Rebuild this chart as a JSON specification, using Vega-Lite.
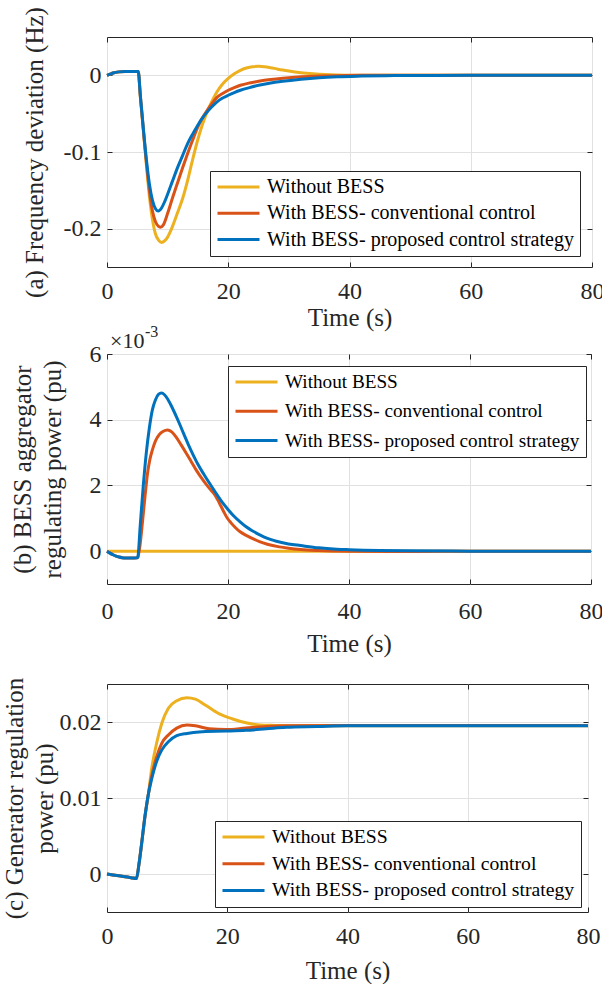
{
  "$schema": "https://vega.github.io/schema/vega-lite/v6.json",
  "padding": {"left": 1, "top": 6, "right": 0, "bottom": 0},
  "background": "white",
  "config": {
    "font": "Liberation Serif",
    "view": {"stroke": "#262626", "strokeWidth": 1},
    "axis": {"domain": false, "labelFont": "Liberation Serif", "labelFontSize": 24, "labelColor": "#262626", "titleFont": "Liberation Serif", "titleFontSize": 25, "titleFontWeight": "normal", "titleColor": "#262626", "gridColor": "#e1e1e1", "tickColor": "#262626", "tickSize": -5, "labelFlush": false, "labelOverlap": false},
    "legend": {"labelFont": "Liberation Serif", "labelFontSize": 20, "labelColor": "#000000", "labelLimit": 400, "symbolType": "stroke", "symbolStrokeWidth": 3, "symbolSize": 1764, "clipHeight": 20, "rowPadding": 6.3, "padding": 6, "labelOffset": 6, "strokeColor": "#262626", "fillColor": "white"},
    "line": {"strokeWidth": 3, "interpolate": "monotone"}
  },
  "datasets": {
    "fa": [
      {"s": "Without BESS", "t": 0, "v": 0}, {"s": "Without BESS", "t": 0.5, "v": 0.0015}, {"s": "Without BESS", "t": 1, "v": 0.003}, {"s": "Without BESS", "t": 2, "v": 0.0045}, {"s": "Without BESS", "t": 3, "v": 0.005}, {"s": "Without BESS", "t": 4, "v": 0.005}, {"s": "Without BESS", "t": 5, "v": 0.005}, {"s": "Without BESS", "t": 5.15, "v": 0.005},
      {"s": "Without BESS", "t": 5.5, "v": -0.028}, {"s": "Without BESS", "t": 6, "v": -0.072}, {"s": "Without BESS", "t": 6.5, "v": -0.117}, {"s": "Without BESS", "t": 7, "v": -0.158}, {"s": "Without BESS", "t": 7.5, "v": -0.188}, {"s": "Without BESS", "t": 8, "v": -0.207}, {"s": "Without BESS", "t": 8.5, "v": -0.215}, {"s": "Without BESS", "t": 9, "v": -0.218}, {"s": "Without BESS", "t": 9.5, "v": -0.216}, {"s": "Without BESS", "t": 10, "v": -0.211}, {"s": "Without BESS", "t": 10.5, "v": -0.203}, {"s": "Without BESS", "t": 11, "v": -0.193}, {"s": "Without BESS", "t": 11.6, "v": -0.18}, {"s": "Without BESS", "t": 12.5, "v": -0.16}, {"s": "Without BESS", "t": 13.3, "v": -0.137}, {"s": "Without BESS", "t": 14, "v": -0.114}, {"s": "Without BESS", "t": 14.9, "v": -0.086}, {"s": "Without BESS", "t": 15.7, "v": -0.065}, {"s": "Without BESS", "t": 16.5, "v": -0.048}, {"s": "Without BESS", "t": 17.3, "v": -0.034}, {"s": "Without BESS", "t": 18.1, "v": -0.022}, {"s": "Without BESS", "t": 19, "v": -0.012}, {"s": "Without BESS", "t": 20, "v": -0.004}, {"s": "Without BESS", "t": 21, "v": 0.002}, {"s": "Without BESS", "t": 22, "v": 0.0065}, {"s": "Without BESS", "t": 23, "v": 0.0095}, {"s": "Without BESS", "t": 24, "v": 0.0112}, {"s": "Without BESS", "t": 25, "v": 0.0117}, {"s": "Without BESS", "t": 26, "v": 0.0113}, {"s": "Without BESS", "t": 27, "v": 0.01}, {"s": "Without BESS", "t": 28, "v": 0.0084}, {"s": "Without BESS", "t": 29, "v": 0.0069}, {"s": "Without BESS", "t": 30, "v": 0.0056}, {"s": "Without BESS", "t": 32, "v": 0.0035}, {"s": "Without BESS", "t": 34, "v": 0.0021}, {"s": "Without BESS", "t": 36, "v": 0.0011}, {"s": "Without BESS", "t": 38, "v": 0.0005}, {"s": "Without BESS", "t": 40, "v": 0.0002}, {"s": "Without BESS", "t": 45, "v": 0}, {"s": "Without BESS", "t": 50, "v": 0}, {"s": "Without BESS", "t": 60, "v": 0}, {"s": "Without BESS", "t": 70, "v": 0}, {"s": "Without BESS", "t": 80, "v": 0},
      {"s": "With BESS- conventional control", "t": 0, "v": 0}, {"s": "With BESS- conventional control", "t": 0.5, "v": 0.0015}, {"s": "With BESS- conventional control", "t": 1, "v": 0.003}, {"s": "With BESS- conventional control", "t": 2, "v": 0.0045}, {"s": "With BESS- conventional control", "t": 3, "v": 0.005}, {"s": "With BESS- conventional control", "t": 4, "v": 0.005}, {"s": "With BESS- conventional control", "t": 5, "v": 0.005}, {"s": "With BESS- conventional control", "t": 5.15, "v": 0.005},
      {"s": "With BESS- conventional control", "t": 5.5, "v": -0.027}, {"s": "With BESS- conventional control", "t": 6, "v": -0.071}, {"s": "With BESS- conventional control", "t": 6.5, "v": -0.114}, {"s": "With BESS- conventional control", "t": 7, "v": -0.151}, {"s": "With BESS- conventional control", "t": 7.5, "v": -0.177}, {"s": "With BESS- conventional control", "t": 8, "v": -0.191}, {"s": "With BESS- conventional control", "t": 8.5, "v": -0.197}, {"s": "With BESS- conventional control", "t": 8.8, "v": -0.198}, {"s": "With BESS- conventional control", "t": 9.3, "v": -0.195}, {"s": "With BESS- conventional control", "t": 10, "v": -0.18}, {"s": "With BESS- conventional control", "t": 10.8, "v": -0.16}, {"s": "With BESS- conventional control", "t": 11.6, "v": -0.141}, {"s": "With BESS- conventional control", "t": 12.5, "v": -0.12}, {"s": "With BESS- conventional control", "t": 13.3, "v": -0.102}, {"s": "With BESS- conventional control", "t": 14.1, "v": -0.085}, {"s": "With BESS- conventional control", "t": 14.9, "v": -0.069}, {"s": "With BESS- conventional control", "t": 15.7, "v": -0.056}, {"s": "With BESS- conventional control", "t": 16.5, "v": -0.046}, {"s": "With BESS- conventional control", "t": 17.3, "v": -0.037}, {"s": "With BESS- conventional control", "t": 18.1, "v": -0.029}, {"s": "With BESS- conventional control", "t": 19, "v": -0.024}, {"s": "With BESS- conventional control", "t": 20, "v": -0.0195}, {"s": "With BESS- conventional control", "t": 21, "v": -0.016}, {"s": "With BESS- conventional control", "t": 22, "v": -0.013}, {"s": "With BESS- conventional control", "t": 23.5, "v": -0.01}, {"s": "With BESS- conventional control", "t": 25, "v": -0.0078}, {"s": "With BESS- conventional control", "t": 27, "v": -0.0055}, {"s": "With BESS- conventional control", "t": 29, "v": -0.0038}, {"s": "With BESS- conventional control", "t": 32, "v": -0.002}, {"s": "With BESS- conventional control", "t": 35, "v": -0.001}, {"s": "With BESS- conventional control", "t": 38, "v": -0.0004}, {"s": "With BESS- conventional control", "t": 42, "v": 0}, {"s": "With BESS- conventional control", "t": 50, "v": 0}, {"s": "With BESS- conventional control", "t": 60, "v": 0}, {"s": "With BESS- conventional control", "t": 70, "v": 0}, {"s": "With BESS- conventional control", "t": 80, "v": 0},
      {"s": "With BESS- proposed control strategy", "t": 0, "v": 0}, {"s": "With BESS- proposed control strategy", "t": 0.5, "v": 0.0015}, {"s": "With BESS- proposed control strategy", "t": 1, "v": 0.003}, {"s": "With BESS- proposed control strategy", "t": 2, "v": 0.0045}, {"s": "With BESS- proposed control strategy", "t": 3, "v": 0.005}, {"s": "With BESS- proposed control strategy", "t": 4, "v": 0.005}, {"s": "With BESS- proposed control strategy", "t": 5, "v": 0.005}, {"s": "With BESS- proposed control strategy", "t": 5.15, "v": 0.005},
      {"s": "With BESS- proposed control strategy", "t": 5.5, "v": -0.026}, {"s": "With BESS- proposed control strategy", "t": 6, "v": -0.07}, {"s": "With BESS- proposed control strategy", "t": 6.5, "v": -0.11}, {"s": "With BESS- proposed control strategy", "t": 7, "v": -0.142}, {"s": "With BESS- proposed control strategy", "t": 7.5, "v": -0.163}, {"s": "With BESS- proposed control strategy", "t": 8, "v": -0.174}, {"s": "With BESS- proposed control strategy", "t": 8.45, "v": -0.177}, {"s": "With BESS- proposed control strategy", "t": 9, "v": -0.173}, {"s": "With BESS- proposed control strategy", "t": 9.5, "v": -0.165}, {"s": "With BESS- proposed control strategy", "t": 10, "v": -0.155}, {"s": "With BESS- proposed control strategy", "t": 10.8, "v": -0.138}, {"s": "With BESS- proposed control strategy", "t": 11.6, "v": -0.121}, {"s": "With BESS- proposed control strategy", "t": 12.5, "v": -0.104}, {"s": "With BESS- proposed control strategy", "t": 13.3, "v": -0.089}, {"s": "With BESS- proposed control strategy", "t": 14.1, "v": -0.077}, {"s": "With BESS- proposed control strategy", "t": 14.9, "v": -0.066}, {"s": "With BESS- proposed control strategy", "t": 15.7, "v": -0.056}, {"s": "With BESS- proposed control strategy", "t": 16.5, "v": -0.048}, {"s": "With BESS- proposed control strategy", "t": 17.3, "v": -0.041}, {"s": "With BESS- proposed control strategy", "t": 18.1, "v": -0.035}, {"s": "With BESS- proposed control strategy", "t": 19, "v": -0.03}, {"s": "With BESS- proposed control strategy", "t": 20, "v": -0.026}, {"s": "With BESS- proposed control strategy", "t": 21, "v": -0.0225}, {"s": "With BESS- proposed control strategy", "t": 22, "v": -0.0195}, {"s": "With BESS- proposed control strategy", "t": 23.5, "v": -0.016}, {"s": "With BESS- proposed control strategy", "t": 25, "v": -0.013}, {"s": "With BESS- proposed control strategy", "t": 27, "v": -0.01}, {"s": "With BESS- proposed control strategy", "t": 29, "v": -0.0078}, {"s": "With BESS- proposed control strategy", "t": 32, "v": -0.005}, {"s": "With BESS- proposed control strategy", "t": 35, "v": -0.003}, {"s": "With BESS- proposed control strategy", "t": 38, "v": -0.0018}, {"s": "With BESS- proposed control strategy", "t": 42, "v": -0.001}, {"s": "With BESS- proposed control strategy", "t": 46, "v": -0.0005}, {"s": "With BESS- proposed control strategy", "t": 50, "v": -0.0002}, {"s": "With BESS- proposed control strategy", "t": 60, "v": 0}, {"s": "With BESS- proposed control strategy", "t": 70, "v": 0}, {"s": "With BESS- proposed control strategy", "t": 80, "v": 0}
    ],
    "fb": [
      {"s": "Without BESS", "t": 0, "v": 0}, {"s": "Without BESS", "t": 20, "v": 0}, {"s": "Without BESS", "t": 40, "v": 0}, {"s": "Without BESS", "t": 60, "v": 0}, {"s": "Without BESS", "t": 80, "v": 0},
      {"s": "With BESS- conventional control", "t": 0, "v": 0}, {"s": "With BESS- conventional control", "t": 0.5, "v": -0.06}, {"s": "With BESS- conventional control", "t": 1, "v": -0.11}, {"s": "With BESS- conventional control", "t": 1.5, "v": -0.15}, {"s": "With BESS- conventional control", "t": 2, "v": -0.18}, {"s": "With BESS- conventional control", "t": 2.5, "v": -0.2}, {"s": "With BESS- conventional control", "t": 3, "v": -0.21}, {"s": "With BESS- conventional control", "t": 4, "v": -0.21}, {"s": "With BESS- conventional control", "t": 5, "v": -0.2}, {"s": "With BESS- conventional control", "t": 5.1, "v": -0.18},
      {"s": "With BESS- conventional control", "t": 5.4, "v": 0.1}, {"s": "With BESS- conventional control", "t": 5.9, "v": 0.95}, {"s": "With BESS- conventional control", "t": 6.3, "v": 1.7}, {"s": "With BESS- conventional control", "t": 6.7, "v": 2.37}, {"s": "With BESS- conventional control", "t": 7.1, "v": 2.8}, {"s": "With BESS- conventional control", "t": 7.5, "v": 3.08}, {"s": "With BESS- conventional control", "t": 8, "v": 3.35}, {"s": "With BESS- conventional control", "t": 8.6, "v": 3.54}, {"s": "With BESS- conventional control", "t": 9.3, "v": 3.65}, {"s": "With BESS- conventional control", "t": 10, "v": 3.69}, {"s": "With BESS- conventional control", "t": 10.7, "v": 3.63}, {"s": "With BESS- conventional control", "t": 11.4, "v": 3.48}, {"s": "With BESS- conventional control", "t": 12.2, "v": 3.25}, {"s": "With BESS- conventional control", "t": 13.1, "v": 2.98}, {"s": "With BESS- conventional control", "t": 14, "v": 2.7}, {"s": "With BESS- conventional control", "t": 14.7, "v": 2.48}, {"s": "With BESS- conventional control", "t": 15.5, "v": 2.26}, {"s": "With BESS- conventional control", "t": 16.4, "v": 2.03}, {"s": "With BESS- conventional control", "t": 17.2, "v": 1.85}, {"s": "With BESS- conventional control", "t": 17.8, "v": 1.72}, {"s": "With BESS- conventional control", "t": 18.3, "v": 1.56}, {"s": "With BESS- conventional control", "t": 18.8, "v": 1.38}, {"s": "With BESS- conventional control", "t": 19.3, "v": 1.2}, {"s": "With BESS- conventional control", "t": 19.9, "v": 1.0}, {"s": "With BESS- conventional control", "t": 20.5, "v": 0.86}, {"s": "With BESS- conventional control", "t": 21.2, "v": 0.72}, {"s": "With BESS- conventional control", "t": 22, "v": 0.59}, {"s": "With BESS- conventional control", "t": 23, "v": 0.48}, {"s": "With BESS- conventional control", "t": 24, "v": 0.39}, {"s": "With BESS- conventional control", "t": 25.2, "v": 0.29}, {"s": "With BESS- conventional control", "t": 26.5, "v": 0.21}, {"s": "With BESS- conventional control", "t": 28.5, "v": 0.13}, {"s": "With BESS- conventional control", "t": 30, "v": 0.09}, {"s": "With BESS- conventional control", "t": 32, "v": 0.05}, {"s": "With BESS- conventional control", "t": 35, "v": 0.02}, {"s": "With BESS- conventional control", "t": 40, "v": 0}, {"s": "With BESS- conventional control", "t": 50, "v": -0.01}, {"s": "With BESS- conventional control", "t": 60, "v": 0}, {"s": "With BESS- conventional control", "t": 70, "v": 0}, {"s": "With BESS- conventional control", "t": 80, "v": 0},
      {"s": "With BESS- proposed control strategy", "t": 0, "v": 0}, {"s": "With BESS- proposed control strategy", "t": 0.5, "v": -0.06}, {"s": "With BESS- proposed control strategy", "t": 1, "v": -0.11}, {"s": "With BESS- proposed control strategy", "t": 1.5, "v": -0.15}, {"s": "With BESS- proposed control strategy", "t": 2, "v": -0.18}, {"s": "With BESS- proposed control strategy", "t": 2.5, "v": -0.2}, {"s": "With BESS- proposed control strategy", "t": 3, "v": -0.21}, {"s": "With BESS- proposed control strategy", "t": 4, "v": -0.21}, {"s": "With BESS- proposed control strategy", "t": 5, "v": -0.2}, {"s": "With BESS- proposed control strategy", "t": 5.1, "v": -0.18},
      {"s": "With BESS- proposed control strategy", "t": 5.5, "v": 0.8}, {"s": "With BESS- proposed control strategy", "t": 6, "v": 2.0}, {"s": "With BESS- proposed control strategy", "t": 6.5, "v": 3.0}, {"s": "With BESS- proposed control strategy", "t": 7, "v": 3.75}, {"s": "With BESS- proposed control strategy", "t": 7.5, "v": 4.3}, {"s": "With BESS- proposed control strategy", "t": 8, "v": 4.6}, {"s": "With BESS- proposed control strategy", "t": 8.5, "v": 4.77}, {"s": "With BESS- proposed control strategy", "t": 9, "v": 4.81}, {"s": "With BESS- proposed control strategy", "t": 9.5, "v": 4.76}, {"s": "With BESS- proposed control strategy", "t": 10, "v": 4.64}, {"s": "With BESS- proposed control strategy", "t": 10.5, "v": 4.47}, {"s": "With BESS- proposed control strategy", "t": 11, "v": 4.28}, {"s": "With BESS- proposed control strategy", "t": 11.5, "v": 4.08}, {"s": "With BESS- proposed control strategy", "t": 12, "v": 3.87}, {"s": "With BESS- proposed control strategy", "t": 12.5, "v": 3.65}, {"s": "With BESS- proposed control strategy", "t": 13, "v": 3.43}, {"s": "With BESS- proposed control strategy", "t": 13.5, "v": 3.22}, {"s": "With BESS- proposed control strategy", "t": 14, "v": 3.02}, {"s": "With BESS- proposed control strategy", "t": 14.5, "v": 2.83}, {"s": "With BESS- proposed control strategy", "t": 15, "v": 2.65}, {"s": "With BESS- proposed control strategy", "t": 16, "v": 2.34}, {"s": "With BESS- proposed control strategy", "t": 17, "v": 2.05}, {"s": "With BESS- proposed control strategy", "t": 18, "v": 1.77}, {"s": "With BESS- proposed control strategy", "t": 19, "v": 1.5}, {"s": "With BESS- proposed control strategy", "t": 20, "v": 1.27}, {"s": "With BESS- proposed control strategy", "t": 21, "v": 1.06}, {"s": "With BESS- proposed control strategy", "t": 22, "v": 0.89}, {"s": "With BESS- proposed control strategy", "t": 23, "v": 0.74}, {"s": "With BESS- proposed control strategy", "t": 24, "v": 0.62}, {"s": "With BESS- proposed control strategy", "t": 25, "v": 0.52}, {"s": "With BESS- proposed control strategy", "t": 26, "v": 0.43}, {"s": "With BESS- proposed control strategy", "t": 27, "v": 0.36}, {"s": "With BESS- proposed control strategy", "t": 28, "v": 0.3}, {"s": "With BESS- proposed control strategy", "t": 30, "v": 0.22}, {"s": "With BESS- proposed control strategy", "t": 32, "v": 0.17}, {"s": "With BESS- proposed control strategy", "t": 35, "v": 0.1}, {"s": "With BESS- proposed control strategy", "t": 38, "v": 0.06}, {"s": "With BESS- proposed control strategy", "t": 40, "v": 0.045}, {"s": "With BESS- proposed control strategy", "t": 45, "v": 0.02}, {"s": "With BESS- proposed control strategy", "t": 50, "v": 0.01}, {"s": "With BESS- proposed control strategy", "t": 60, "v": 0}, {"s": "With BESS- proposed control strategy", "t": 70, "v": 0}, {"s": "With BESS- proposed control strategy", "t": 80, "v": 0}
    ],
    "fc": [
      {"s": "Without BESS", "t": 0, "v": 0}, {"s": "Without BESS", "t": 1, "v": -0.00012}, {"s": "Without BESS", "t": 2, "v": -0.00024}, {"s": "Without BESS", "t": 3, "v": -0.00036}, {"s": "Without BESS", "t": 4, "v": -0.00048}, {"s": "Without BESS", "t": 4.9, "v": -0.0006}, {"s": "Without BESS", "t": 5.3, "v": 0.0012}, {"s": "Without BESS", "t": 5.76, "v": 0.004}, {"s": "Without BESS", "t": 6.3, "v": 0.0075}, {"s": "Without BESS", "t": 6.9, "v": 0.0106},
      {"s": "Without BESS", "t": 7.4, "v": 0.0137}, {"s": "Without BESS", "t": 8.25, "v": 0.0172}, {"s": "Without BESS", "t": 9.1, "v": 0.0198}, {"s": "Without BESS", "t": 10.2, "v": 0.0218}, {"s": "Without BESS", "t": 11.6, "v": 0.0228}, {"s": "Without BESS", "t": 13.3, "v": 0.0232}, {"s": "Without BESS", "t": 14.7, "v": 0.023}, {"s": "Without BESS", "t": 16.4, "v": 0.0222}, {"s": "Without BESS", "t": 18.6, "v": 0.0211}, {"s": "Without BESS", "t": 20.9, "v": 0.0204}, {"s": "Without BESS", "t": 23.1, "v": 0.0199}, {"s": "Without BESS", "t": 25.4, "v": 0.0196}, {"s": "Without BESS", "t": 28, "v": 0.01955}, {"s": "Without BESS", "t": 32, "v": 0.0195}, {"s": "Without BESS", "t": 40, "v": 0.0195}, {"s": "Without BESS", "t": 50, "v": 0.0195}, {"s": "Without BESS", "t": 60, "v": 0.0195}, {"s": "Without BESS", "t": 70, "v": 0.0195}, {"s": "Without BESS", "t": 80, "v": 0.0195},
      {"s": "With BESS- conventional control", "t": 0, "v": 0}, {"s": "With BESS- conventional control", "t": 1, "v": -0.00012}, {"s": "With BESS- conventional control", "t": 2, "v": -0.00024}, {"s": "With BESS- conventional control", "t": 3, "v": -0.00036}, {"s": "With BESS- conventional control", "t": 4, "v": -0.00048}, {"s": "With BESS- conventional control", "t": 4.9, "v": -0.0006}, {"s": "With BESS- conventional control", "t": 5.3, "v": 0.0012}, {"s": "With BESS- conventional control", "t": 5.76, "v": 0.004}, {"s": "With BESS- conventional control", "t": 6.3, "v": 0.0075}, {"s": "With BESS- conventional control", "t": 6.9, "v": 0.0106},
      {"s": "With BESS- conventional control", "t": 7.4, "v": 0.0128}, {"s": "With BESS- conventional control", "t": 8.25, "v": 0.0154}, {"s": "With BESS- conventional control", "t": 9.1, "v": 0.0172}, {"s": "With BESS- conventional control", "t": 10.2, "v": 0.0183}, {"s": "With BESS- conventional control", "t": 11.6, "v": 0.0192}, {"s": "With BESS- conventional control", "t": 13.3, "v": 0.0196}, {"s": "With BESS- conventional control", "t": 14.7, "v": 0.0195}, {"s": "With BESS- conventional control", "t": 17, "v": 0.0191}, {"s": "With BESS- conventional control", "t": 19.8, "v": 0.019}, {"s": "With BESS- conventional control", "t": 23.1, "v": 0.0192}, {"s": "With BESS- conventional control", "t": 26.5, "v": 0.0194}, {"s": "With BESS- conventional control", "t": 29.8, "v": 0.0195}, {"s": "With BESS- conventional control", "t": 40, "v": 0.01955}, {"s": "With BESS- conventional control", "t": 50, "v": 0.01955}, {"s": "With BESS- conventional control", "t": 60, "v": 0.01955}, {"s": "With BESS- conventional control", "t": 80, "v": 0.01955},
      {"s": "With BESS- proposed control strategy", "t": 0, "v": 0}, {"s": "With BESS- proposed control strategy", "t": 1, "v": -0.00012}, {"s": "With BESS- proposed control strategy", "t": 2, "v": -0.00024}, {"s": "With BESS- proposed control strategy", "t": 3, "v": -0.00036}, {"s": "With BESS- proposed control strategy", "t": 4, "v": -0.00048}, {"s": "With BESS- proposed control strategy", "t": 4.9, "v": -0.0006}, {"s": "With BESS- proposed control strategy", "t": 5.3, "v": 0.0012}, {"s": "With BESS- proposed control strategy", "t": 5.76, "v": 0.004}, {"s": "With BESS- proposed control strategy", "t": 6.3, "v": 0.0075}, {"s": "With BESS- proposed control strategy", "t": 6.9, "v": 0.0106},
      {"s": "With BESS- proposed control strategy", "t": 7.4, "v": 0.0124}, {"s": "With BESS- proposed control strategy", "t": 8.25, "v": 0.0148}, {"s": "With BESS- proposed control strategy", "t": 9.1, "v": 0.0163}, {"s": "With BESS- proposed control strategy", "t": 10.2, "v": 0.0174}, {"s": "With BESS- proposed control strategy", "t": 11.6, "v": 0.0182}, {"s": "With BESS- proposed control strategy", "t": 13.3, "v": 0.0185}, {"s": "With BESS- proposed control strategy", "t": 15.3, "v": 0.0187}, {"s": "With BESS- proposed control strategy", "t": 19.8, "v": 0.0188}, {"s": "With BESS- proposed control strategy", "t": 23.1, "v": 0.0189}, {"s": "With BESS- proposed control strategy", "t": 26.5, "v": 0.0191}, {"s": "With BESS- proposed control strategy", "t": 29.8, "v": 0.0193}, {"s": "With BESS- proposed control strategy", "t": 35, "v": 0.0194}, {"s": "With BESS- proposed control strategy", "t": 40, "v": 0.0195}, {"s": "With BESS- proposed control strategy", "t": 50, "v": 0.0195}, {"s": "With BESS- proposed control strategy", "t": 60, "v": 0.0195}, {"s": "With BESS- proposed control strategy", "t": 80, "v": 0.0195}
    ]
  },
  "bounds": "flush",
  "spacing": 87,
  "resolve": {"scale": {"color": "independent"}},
  "vconcat": [
    {
      "width": 485,
      "height": 230,
      "data": {"name": "fa"},
      "resolve": {"axis": {"x": "independent", "y": "independent"}},
      "layer": [
        {
          "mark": {"type": "line"},
          "encoding": {
            "x": {"field": "t", "type": "quantitative", "scale": {"domain": [0, 80], "nice": false}, "axis": {"orient": "bottom", "values": [0, 20, 40, 60, 80], "title": "Time (s)", "labelPadding": 17, "titlePadding": 2}},
            "y": {"field": "v", "type": "quantitative", "scale": {"domain": [-0.25, 0.05], "nice": false, "zero": false}, "axis": {"orient": "left", "values": [-0.2, -0.1, 0], "title": "(a) Frequency deviation (Hz)", "labelPadding": 11, "titlePadding": 16, "labelExpr": "datum.value == 0 ? '0' : '-' + format(abs(datum.value), '.1f')"}},
            "color": {"field": "s", "type": "nominal", "scale": {"domain": ["Without BESS", "With BESS- conventional control", "With BESS- proposed control strategy"], "range": ["#EDB120", "#D95319", "#0072BD"]}, "legend": {"title": null, "orient": "none", "legendX": 103, "legendY": 134, "labelFontSize": 20, "rowPadding": 6.3}}
          }
        },
        {
          "mark": {"type": "line", "strokeOpacity": 0},
          "encoding": {
            "x": {"field": "t", "type": "quantitative", "axis": {"orient": "top", "values": [0, 20, 40, 60, 80], "labels": false, "grid": false, "title": null}},
            "y": {"field": "v", "type": "quantitative", "axis": {"orient": "right", "values": [-0.2, -0.1, 0], "labels": false, "grid": false, "title": null}},
            "detail": {"field": "s"}
          }
        }
      ]
    },
    {
      "bounds": "flush",
      "spacing": 100,
      "resolve": {"scale": {"color": "independent"}},
      "vconcat": [
        {
          "width": 484,
          "height": 230,
          "data": {"name": "fb"},
          "resolve": {"axis": {"x": "independent", "y": "independent"}},
          "layer": [
            {
              "mark": {"type": "line"},
              "encoding": {
                "x": {"field": "t", "type": "quantitative", "scale": {"domain": [0, 80], "nice": false}, "axis": {"orient": "bottom", "values": [0, 20, 40, 60, 80], "title": "Time (s)", "labelPadding": 20, "titlePadding": 8}},
                "y": {"field": "v", "type": "quantitative", "scale": {"domain": [-1, 6], "nice": false, "zero": false}, "axis": {"orient": "left", "values": [0, 2, 4, 6], "title": ["(b) BESS aggregator", "regulating power (pu)"], "titleLineHeight": 30, "labelPadding": 11, "titlePadding": 24}},
                "color": {"field": "s", "type": "nominal", "scale": {"domain": ["Without BESS", "With BESS- conventional control", "With BESS- proposed control strategy"], "range": ["#EDB120", "#D95319", "#0072BD"]}, "legend": {"title": null, "orient": "none", "legendX": 121, "legendY": 12, "labelFontSize": 19.2, "rowPadding": 8.3}}
              }
            },
            {
              "mark": {"type": "line", "strokeOpacity": 0},
              "encoding": {
                "x": {"field": "t", "type": "quantitative", "axis": {"orient": "top", "values": [0, 20, 40, 60, 80], "labels": false, "grid": false, "title": null}},
                "y": {"field": "v", "type": "quantitative", "axis": {"orient": "right", "values": [0, 2, 4, 6], "labels": false, "grid": false, "title": null}},
                "detail": {"field": "s"}
              }
            },
            {
              "data": {"values": [{"lab": "×10"}]},
              "mark": {"type": "text", "align": "left", "baseline": "alphabetic", "dx": 3, "dy": -6, "fontSize": 22, "color": "#262626", "font": "Liberation Serif"},
              "encoding": {
                "x": {"datum": 0, "type": "quantitative", "axis": null},
                "y": {"datum": 6, "type": "quantitative", "axis": null},
                "text": {"field": "lab"}
              }
            },
            {
              "data": {"values": [{"lab": "-3"}]},
              "mark": {"type": "text", "align": "left", "baseline": "alphabetic", "dx": 38, "dy": -17, "fontSize": 16, "color": "#262626", "font": "Liberation Serif"},
              "encoding": {
                "x": {"datum": 0, "type": "quantitative", "axis": null},
                "y": {"datum": 6, "type": "quantitative", "axis": null},
                "text": {"field": "lab"}
              }
            }
          ]
        },
        {
          "width": 481,
          "height": 228,
          "data": {"name": "fc"},
          "resolve": {"axis": {"x": "independent", "y": "independent"}},
          "layer": [
            {
              "mark": {"type": "line"},
              "encoding": {
                "x": {"field": "t", "type": "quantitative", "scale": {"domain": [0, 80], "nice": false}, "axis": {"orient": "bottom", "values": [0, 20, 40, 60, 80], "title": "Time (s)", "labelPadding": 17, "titlePadding": 10}},
                "y": {"field": "v", "type": "quantitative", "scale": {"domain": [-0.005, 0.025], "nice": false, "zero": false}, "axis": {"orient": "left", "values": [0, 0.01, 0.02], "title": ["(c) Generator regulation", "power (pu)"], "titleLineHeight": 30, "labelPadding": 11, "titlePadding": 2, "labelExpr": "datum.value == 0 ? '0' : format(datum.value, '.2f')"}},
                "color": {"field": "s", "type": "nominal", "scale": {"domain": ["Without BESS", "With BESS- conventional control", "With BESS- proposed control strategy"], "range": ["#EDB120", "#D95319", "#0072BD"]}, "legend": {"title": null, "orient": "none", "legendX": 108, "legendY": 137, "labelFontSize": 19.7, "rowPadding": 6.7}}
              }
            },
            {
              "mark": {"type": "line", "strokeOpacity": 0},
              "encoding": {
                "x": {"field": "t", "type": "quantitative", "axis": {"orient": "top", "values": [0, 20, 40, 60, 80], "labels": false, "grid": false, "title": null}},
                "y": {"field": "v", "type": "quantitative", "axis": {"orient": "right", "values": [0, 0.01, 0.02], "labels": false, "grid": false, "title": null}},
                "detail": {"field": "s"}
              }
            }
          ]
        }
      ]
    }
  ]
}
